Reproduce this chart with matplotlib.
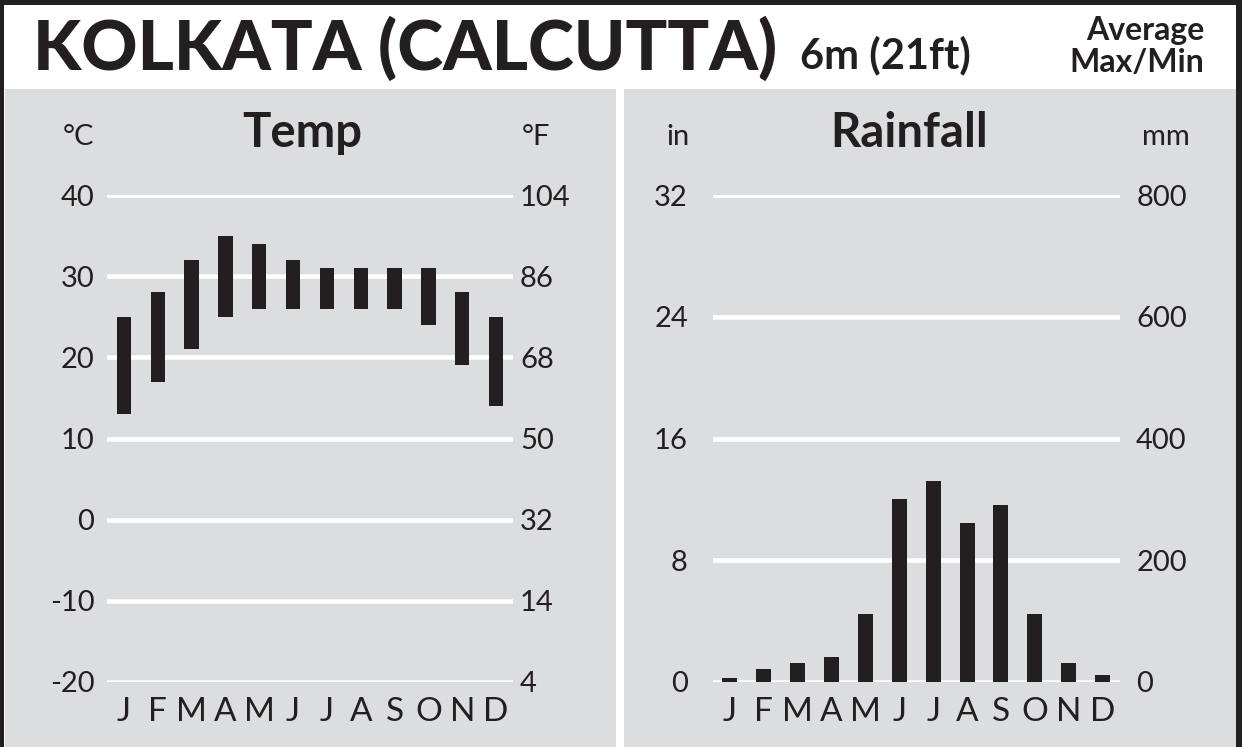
import matplotlib
matplotlib.use('Agg')
import matplotlib.pyplot as plt
from matplotlib.patches import Rectangle
from matplotlib import font_manager

# data
months = ['J', 'F', 'M', 'A', 'M', 'J', 'J', 'A', 'S', 'O', 'N', 'D']
temp_max = [25, 28, 32, 35, 34, 32, 31, 31, 31, 31, 28, 25]
temp_min = [13, 17, 21, 25, 26, 26, 26, 26, 26, 24, 19, 14]
rain_mm = [7, 21, 31, 41, 111, 300, 330, 261, 290, 111, 31, 11]

c_ticks = [-20, -10, 0, 10, 20, 30, 40]
f_labels = ['4', '14', '32', '50', '68', '86', '104']
mm_ticks = [0, 200, 400, 600, 800]
in_labels = ['0', '8', '16', '24', '32']

W, H = 1242, 747
DARK = '#231f20'
GREY = '#dcdddf'

avail = {f.name for f in font_manager.fontManager.ttflist}
narrow = 'Liberation Sans Narrow' if 'Liberation Sans Narrow' in avail else 'Lato'
month_size = 29 if narrow != 'Lato' else 24
head_size = 40 if narrow != 'Lato' else 34

def fx(x):
    return x / W

def fy(y):
    return 1 - y / H

fig = plt.figure(figsize=(W / 100, H / 100), dpi=100)
fig.patch.set_facecolor('white')

# frame and panels (behind the axes)
for x0, y0, x1, y1, col in [(0, 0, W, 5, DARK), (0, 0, 4, H, DARK), (1236, 0, W, H, DARK),
                            (5, 89, 616, H, GREY), (624, 89, 1236, H, GREY)]:
    fig.patches.append(Rectangle((fx(x0), fy(y1)), fx(x1 - x0), (y1 - y0) / H,
                                 transform=fig.transFigure, facecolor=col, edgecolor='none', zorder=-5))

fig.text(fx(33), fy(70), 'KOLKATA (CALCUTTA)', fontsize=50, family='Lato', weight='black',
         color=DARK, va='baseline', ha='left')
fig.text(fx(800), fy(68), '6m (21ft)', fontsize=30, family='Lato', weight='bold',
         color=DARK, va='baseline', ha='left')
fig.text(fx(1204), fy(40), 'Average', fontsize=23, family='Lato', weight='bold',
         color=DARK, va='baseline', ha='right')
fig.text(fx(1204), fy(72), 'Max/Min', fontsize=23, family='Lato', weight='bold',
         color=DARK, va='baseline', ha='right')

x = list(range(12))

def style(ax, ticks, left_labels, right_labels, lpad, rpad):
    ax.set_xlim(-0.5, 11.5)
    ax.set_facecolor('none')
    for s in ax.spines.values():
        s.set_visible(False)
    for t in ticks:
        ax.axhline(t, color='white', lw=3.3, zorder=1)
    ax.set_yticks(ticks)
    ax.set_yticklabels(left_labels)
    ax.tick_params(axis='y', length=0, pad=lpad, labelsize=21, labelcolor=DARK)
    ax.set_xticks(x)
    ax.set_xticklabels(months, family=narrow)
    ax.tick_params(axis='x', length=0, pad=11, labelsize=month_size, labelcolor=DARK)
    for lab in ax.get_yticklabels():
        lab.set_family('Lato')
    ax2 = ax.twinx()
    ax2.set_ylim(ax.get_ylim())
    for s in ax2.spines.values():
        s.set_visible(False)
    ax2.set_yticks(ticks)
    ax2.set_yticklabels(right_labels, family='Lato')
    ax2.tick_params(axis='y', length=0, pad=rpad, labelsize=21, labelcolor=DARK)
    return ax2

# temperature panel
ax_t = fig.add_axes([fx(107), fy(682), fx(513 - 107), (682 - 195) / H])
ax_t.set_ylim(-20, 40)
ax_t.bar(x, [hi - lo for hi, lo in zip(temp_max, temp_min)], bottom=temp_min,
         width=0.42, color=DARK, zorder=2)
style(ax_t, c_ticks, [str(c) for c in c_ticks], f_labels, 9, 5)

# rainfall panel
ax_r = fig.add_axes([fx(713), fy(682), fx(1119.5 - 713), (682 - 195) / H])
ax_r.set_ylim(0, 800)
ax_r.bar(x, rain_mm, width=0.44, color=DARK, zorder=2)
style(ax_r, mm_ticks, in_labels, [str(m) for m in mm_ticks], 18, 12)

fig.text(fx(78), fy(145), '°C', fontsize=21, family='Lato', color=DARK, ha='center', va='baseline')
fig.text(fx(536), fy(145), '°F', fontsize=21, family='Lato', color=DARK, ha='center', va='baseline')
fig.text(fx(678), fy(145), 'in', fontsize=21, family='Lato', color=DARK, ha='center', va='baseline')
fig.text(fx(1166), fy(145), 'mm', fontsize=21, family='Lato', color=DARK, ha='center', va='baseline')
fig.text(fx(302), fy(147), 'Temp', fontsize=head_size, family=narrow, weight='bold',
         color=DARK, ha='center', va='baseline')
fig.text(fx(909), fy(147), 'Rainfall', fontsize=head_size, family=narrow, weight='bold',
         color=DARK, ha='center', va='baseline')

fig.savefig('out.png', dpi=100)
